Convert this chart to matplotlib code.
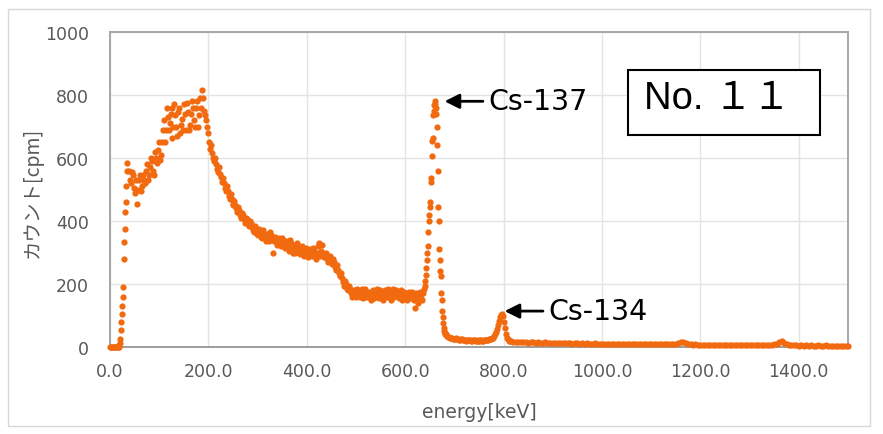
import numpy as np
import matplotlib.pyplot as plt
from matplotlib.patches import Rectangle

# spectrum, read per energy segment (keV start, keV step, cpm values)
low_start, low_step = 0, 2
low_counts = [0, 0, 0, 0, 0, 0, 0, 0, 0, 1]

edge_start, edge_step = 19, 1
edge_counts = [5, 12, 25, 55, 80, 105, 130, 160, 190, 280, 333, 375, 428, 460, 510, 560, 585]

cont_start, cont_step = 39, 4
cont_counts = [
    560, 520, 545, 490, 455, 530, 495, 545, 520, 580,
    545, 600, 560, 620, 585, 650, 610, 690, 650, 760,
    690, 740, 665, 770, 700, 745, 680, 725, 770, 690,
    745, 705, 780, 720, 760, 700, 790, 815, 750, 720,
    680, 630, 615, 590, 580, 555, 550, 525, 520, 495,
    495, 470, 470, 450, 450, 430, 435, 410, 420, 395,
    405, 385, 395, 370, 385, 360, 375, 350, 370, 345,
    360, 335, 355, 300, 350, 325, 345, 320, 340, 315,
    335, 305, 330, 300, 325, 310, 320, 295, 320, 290,
    315, 285, 310, 290, 305, 280, 320, 290, 325, 285,
    300, 270, 290, 265, 270, 245, 245, 225, 220, 195,
    200, 180, 185, 160, 180, 160, 185, 165, 175, 155,
    185, 160, 175, 150, 180, 160, 185, 155, 170, 150,
    180, 160, 175, 150, 185, 165, 175, 155, 180, 160,
    170, 150, 175, 155, 165, 125, 160, 140, 175, 150,
    185,
]

# channels in between the ones above
cont_mid_start, cont_mid_step = 41, 4
cont_mid_counts = [
    530, 555, 505, 530, 500, 545, 510, 530, 560, 530,
    570, 590, 545, 600, 625, 595, 650, 720, 690, 730,
    710, 760, 700, 735, 670, 760, 705, 690, 740, 775,
    690, 740, 760, 700, 780, 735, 760, 790, 735, 700,
    650, 640, 600, 600, 565, 570, 540, 535, 505, 510,
    480, 485, 455, 465, 440, 445, 420, 425, 405, 410,
    390, 400, 380, 365, 375, 355, 365, 345, 360, 335,
    350, 365, 340, 335, 345, 330, 335, 345, 325, 330,
    320, 340, 310, 315, 300, 330, 305, 310, 300, 310,
    300, 295, 300, 315, 290, 300, 330, 305, 300, 295,
    280, 285, 275, 280, 255, 260, 235, 235, 205, 210,
    185, 195, 170, 175, 165, 170, 175, 160, 185, 170,
    165, 170, 160, 170, 155, 175, 170, 180, 160, 170,
    165, 185, 160, 170, 160, 180, 165, 170, 150, 175,
    160, 170, 165, 175, 150, 170, 145, 165, 155, 170,
]

cs137_start, cs137_step = 640, 1
cs137_counts = [
    195, 210, 230, 250, 275, 300, 320, 365, 400, 420,
    445, 460, 525, 535, 605, 655, 665, 735, 750, 768,
    782, 772, 760, 740, 700, 640, 560, 445, 400, 310,
    275, 240, 225, 170, 150, 115, 95, 75, 60, 50,
    45, 42, 40,
]

tail_start, tail_step = 683, 2
tail_counts = [38, 35, 32, 31, 30, 29, 28, 26, 25, 26, 27, 25, 24, 23, 22, 24,
               25, 23, 22, 21, 20, 22, 23, 21, 21, 20, 20, 21, 22, 21, 20, 19,
               21, 20, 19, 21, 22, 20, 20, 21, 22, 21, 21, 23, 24, 25, 26, 28,
               30]

cs134_start, cs134_step = 781, 2
cs134_counts = [34, 40, 48, 58, 70, 84, 95, 103, 106, 98, 80, 60, 42, 30, 24, 20, 18]

high_start, high_step = 815, 5
high_counts = [
    18, 17, 16, 17, 15, 16, 15, 14, 16, 15,
    14, 15, 13, 14, 15, 13, 14, 12, 14, 13,
    12, 13, 12, 14, 12, 11, 13, 12, 11, 12,
    11, 12, 10, 11, 12, 10, 11, 10, 11, 10,
    10, 11, 9, 10, 11, 9, 10, 9, 10, 9,
    10, 9, 8, 10, 9, 8, 9, 10, 9, 8,
    9, 8, 9, 8, 9, 10, 9, 11, 13, 16,
    17, 14, 10, 8, 7, 8, 7, 6, 7, 6,
    7, 6, 7, 6, 5, 6, 7, 6, 5, 6,
    6, 5, 6, 5, 6, 5, 6, 5, 6, 5,
    6, 5, 6, 6, 7, 6, 7, 8, 11, 16,
    20, 14, 9, 6, 5, 6, 5, 4, 5, 4,
    5, 4, 5, 4, 4, 5, 4, 4, 5, 4,
    4, 4, 3, 4, 3, 4, 3, 3,
]

segments = [
    (low_start, low_step, low_counts),
    (edge_start, edge_step, edge_counts),
    (cont_start, cont_step, cont_counts),
    (cont_mid_start, cont_mid_step, cont_mid_counts),
    (cs137_start, cs137_step, cs137_counts),
    (tail_start, tail_step, tail_counts),
    (cs134_start, cs134_step, cs134_counts),
    (high_start, high_step, high_counts),
]
energy = np.concatenate([start + step * np.arange(len(c)) for start, step, c in segments])
counts = np.concatenate([np.asarray(c, dtype=float) for _, _, c in segments])

x_ticks = [0, 200, 400, 600, 800, 1000, 1200, 1400]
y_ticks = [0, 200, 400, 600, 800, 1000]

label_grey = '#595959'
dot_orange = '#f26a10'

fig = plt.figure(figsize=(8.83, 4.35), dpi=100)
fig.patch.set_facecolor('white')
fig.patches.append(Rectangle((8 / 883, 1 - 427 / 435), 862 / 883, 417 / 435,
                             transform=fig.transFigure, fill=False,
                             edgecolor='#d9d9d9', lw=1))

ax = fig.add_axes([110 / 883, 1 - 348 / 435, 738 / 883, 315 / 435])
ax.plot(energy, counts, 'o', ms=4.5, color=dot_orange, mec='none', clip_on=False, zorder=3)

ax.set_xlim(0, 1500)
ax.set_ylim(0, 1000)
ax.set_xticks(x_ticks)
ax.set_xticklabels([f'{v:.1f}' for v in x_ticks])
ax.set_yticks(y_ticks)
ax.tick_params(length=0, labelsize=12.5, labelcolor=label_grey)
ax.tick_params(axis='x', pad=11)
ax.tick_params(axis='y', pad=15)
for lbl in ax.get_xticklabels() + ax.get_yticklabels():
    lbl.set_family('DejaVu Sans')

ax.grid(True, color='#e4e4e4', lw=1)
ax.set_axisbelow(True)
for side in ['top', 'right', 'left']:
    ax.spines[side].set_color('#a6a6a6')
    ax.spines[side].set_linewidth(1.4)
ax.spines['bottom'].set_color('#8c8c8c')
ax.spines['bottom'].set_linewidth(1.2)

fig.text(479 / 883, 1 - 413 / 435, 'energy[keV]', ha='center', va='center',
         fontsize=13.5, color=label_grey, family='DejaVu Sans')
fig.text(32 / 883, 1 - 192 / 435, 'カウント[cpm]', ha='center', va='center',
         rotation=90, fontsize=14, color=label_grey,
         family=['Noto Sans CJK JP', 'DejaVu Sans'])

# peak labels with arrows
arrow = dict(arrowstyle='-|>', color='black', lw=2, mutation_scale=22, shrinkA=0, shrinkB=0)
ax.annotate('', xy=(680, 780), xytext=(758, 780), arrowprops=arrow)
ax.text(770, 780, 'Cs-137', ha='left', va='center', fontsize=20.5, family='DejaVu Sans')
ax.annotate('', xy=(802, 114), xytext=(880, 114), arrowprops=arrow)
ax.text(892, 114, 'Cs-134', ha='left', va='center', fontsize=20.5, family='DejaVu Sans')

# sample number box
ax.add_patch(Rectangle((0.702, 0.673), 0.26, 0.206, transform=ax.transAxes,
                       facecolor='white', edgecolor='black', lw=1.5, zorder=4))
ax.text(0.8225, 0.79, 'No. １１', transform=ax.transAxes, ha='center', va='center',
        fontsize=27.5, family=['Liberation Sans', 'Noto Sans CJK JP'], zorder=5)

fig.savefig('out.png', dpi=100)
